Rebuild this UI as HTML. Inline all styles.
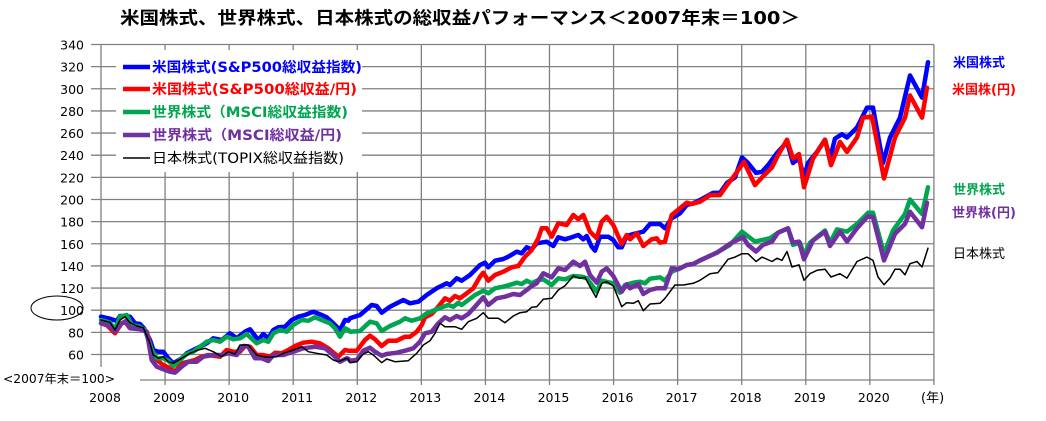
<!DOCTYPE html>
<html><head><meta charset="utf-8"><style>
body{margin:0;background:#fff}
svg{display:block;font-family:"DejaVu Sans","Noto Sans CJK JP",sans-serif}
</style></head><body>
<svg id="s" width="1046" height="421" viewBox="0 0 1046 421" xmlns="http://www.w3.org/2000/svg">
<text x="460" y="24" text-anchor="middle" font-size="17.5" font-weight="bold" textLength="680" lengthAdjust="spacingAndGlyphs">米国株式、世界株式、日本株式の総収益パフォーマンス＜2007年末＝100＞</text>
<g id="grid" stroke="#808080" stroke-width="1.3" fill="none"></g>
<g id="lab" font-size="12.5" fill="#000"></g>
<g id="ser" fill="none" stroke-linejoin="round" stroke-linecap="round"></g>
<rect x="116" y="50" width="246" height="122" fill="#fff"/>
<g font-size="14" font-weight="bold">
<line x1="123" y1="67" x2="150" y2="67" stroke="#0000ff" stroke-width="4.5"/><text x="152" y="72" fill="#0000ff" textLength="210" lengthAdjust="spacingAndGlyphs">米国株式(S&amp;P500総収益指数)</text>
<line x1="123" y1="89" x2="150" y2="89" stroke="#ff0000" stroke-width="4.5"/><text x="152" y="94" fill="#ff0000" textLength="205" lengthAdjust="spacingAndGlyphs">米国株式(S&amp;P500総収益/円)</text>
<line x1="123" y1="112" x2="150" y2="112" stroke="#00a550" stroke-width="4.5"/><text x="152" y="117" fill="#00a550" textLength="196" lengthAdjust="spacingAndGlyphs">世界株式（MSCI総収益指数)</text>
<line x1="123" y1="135" x2="150" y2="135" stroke="#7030a0" stroke-width="4.5"/><text x="152" y="140" fill="#7030a0" textLength="190" lengthAdjust="spacingAndGlyphs">世界株式（MSCI総収益/円)</text>
<line x1="123" y1="158" x2="150" y2="158" stroke="#000" stroke-width="1.5"/><text x="152" y="163" fill="#000" font-weight="normal" textLength="192" lengthAdjust="spacingAndGlyphs">日本株式(TOPIX総収益指数)</text>
</g>
<g font-size="13" font-weight="bold">
<text x="953" y="67" fill="#0000ff">米国株式</text>
<text x="952" y="94" fill="#ff0000">米国株(円)</text>
<text x="953" y="194" fill="#00a550">世界株式</text>
<text x="952" y="217" fill="#7030a0">世界株(円)</text>
<text x="953" y="258" fill="#000" font-weight="normal">日本株式</text>
</g>
<ellipse cx="57" cy="308" rx="26" ry="12" fill="none" stroke="#000" stroke-width="1"/>
<text x="3" y="383" font-size="12" textLength="112" lengthAdjust="spacingAndGlyphs">&lt;2007年末＝100&gt;</text>
<text x="921" y="402" font-size="13">(年)</text>
</svg>
<script>
var NS="http://www.w3.org/2000/svg";
function el(p,t,a,txt){var e=document.createElementNS(NS,t);for(var k in a)e.setAttribute(k,a[k]);if(txt)e.textContent=txt;document.getElementById(p).appendChild(e);}
var L=101,R=934,T=44.5,B=380;
function Y(v){return T+(340-v)*1.1071;}
for(var v=60;v<=340;v+=20){var y=Y(v);el("grid","line",{x1:L-10,y1:y,x2:R,y2:y});el("lab","text",{x:84,y:y+5,"text-anchor":"end"},""+v);}
el("grid","line",{x1:140,y1:B,x2:R,y2:B});
for(var i=0;i<=13;i++){var x=L+i*64.07;el("grid","line",{x1:x,y1:T,x2:x,y2:(i==0?367:B+5)});if(i<13)el("lab","text",{x:x+4,y:402,"text-anchor":"middle"},""+(2008+i));}
function A(a){var r=[];for(var i=0;i<a.length;i+=2)r.push([a[i]/3,30+a[i+1]/3]);return r;}
function M(a){var r=[];for(var i=0;i<a.length;i+=2)if(a[i]<=1050)r.push([350+a[i]/3,190+a[i+1]/3]);return r;}
function Rt(a){var r=[];for(var i=0;i<a.length;i+=2)r.push([a[i],Y(a[i+1])]);return r;}
var S=[
["#0000ff",4.5,
A([303,860,330,866,350,873,360,858,375,858,390,860,405,880,420,882,432,895,450,930,460,960,475,965,490,965,505,985,520,1000,545,985,560,970,580,960,600,950,620,940,640,925,665,930,690,910,710,925,735,905,750,898,775,930,790,912,805,925,820,900,835,892,855,890,875,870,895,860,915,855,940,845,965,855,980,862,1000,880,1020,900,1035,870,1045,872]),
M([0,385,30,375,65,345,80,348,95,368,120,350,160,330,180,340,205,335,230,315,260,295,290,280,300,285,320,265,335,272,360,255,390,225,405,218,415,232,435,212,460,207,475,200,500,185,515,190,530,172,545,178,560,160,590,155,610,168,625,142,645,148,665,142,685,135,700,148,710,138,725,170,735,182,750,140,775,140,790,150,805,172,815,172,830,138,850,132,880,125,900,102,930,102,945,115,965,85,990,70,1010,45,1030,40]),
Rt([700,199.5,713,206,720,206,727,215,735,220,742,238,748,233,756,224,762,225,768,231,777,242,787,252,793,233,799,237,804,220,808,233,817,243,825,254,830,237,835,255,842,259,847,256,857,265,867,283,873,283,883,233,890,256,900,274,910,312,922,292,928,324])],
["#ff0000",4.5,
A([303,880,320,885,345,910,365,880,375,875,390,895,405,895,425,895,440,905,455,960,470,990,490,1005,510,1015,525,1025,545,1000,565,995,585,990,605,980,625,975,660,980,680,960,700,965,720,965,735,948,750,950,770,975,790,975,810,980,825,968,845,970,865,960,885,948,910,938,935,935,960,940,985,955,1015,980,1035,960,1045,962]),
M([0,482,20,482,45,450,60,437,75,448,95,468,115,452,140,452,165,440,180,440,200,425,215,405,225,382,245,372,265,350,285,325,300,332,315,318,330,325,350,310,370,295,390,260,400,248,415,272,435,255,460,245,485,232,505,228,525,200,545,180,565,145,575,115,590,115,605,140,625,100,650,105,670,75,685,88,700,75,720,125,740,145,755,95,770,80,790,105,815,162,830,135,840,148,860,130,880,168,905,148,920,145,930,158,945,155,965,75,990,55,1010,38,1025,42]),
Rt([700,198,710,204,720,204,727,213,733,220,744,234,755,213,762,220,772,229,778,240,787,254,793,237,799,241,804,211,813,237,825,254,831,231,840,252,847,243,857,256,863,274,872,275,884,219,895,256,905,274,910,294,922,274,927,301])],
["#00a550",4.5,
A([303,870,330,878,345,898,360,860,380,855,395,885,420,890,435,900,455,960,470,985,490,985,505,992,520,1008,545,985,560,972,580,965,600,950,620,935,640,930,660,935,680,920,700,928,720,925,740,912,770,940,790,930,805,935,820,910,840,900,860,905,880,885,905,870,925,872,945,862,965,870,990,880,1005,895,1020,920,1035,895,1045,900]),
M([0,425,30,423,60,395,80,400,95,423,120,408,150,395,165,385,185,392,210,385,230,370,255,360,280,350,295,345,310,350,325,338,335,345,355,330,375,315,400,302,415,310,435,295,460,290,485,283,500,278,515,282,530,272,545,280,565,270,580,268,605,285,625,265,645,268,670,258,695,260,710,265,740,305,755,272,790,280,810,308,825,285,850,278,870,275,885,280,900,266,930,262,945,272,965,245,990,235,1010,225,1030,222]),
Rt([700,145,717,152,730,159,742,171,755,162,770,165,778,170,788,174,793,159,800,161,804,150,810,161,825,172,830,161,837,173,847,171,857,178,868,188,873,188,884,151,893,172,905,187,910,200,922,187,928,211])],
["#7030a0",4.5,
A([303,880,330,888,345,905,365,880,378,873,390,895,420,898,440,905,455,990,470,1010,490,1018,510,1025,525,1028,545,1010,565,995,590,995,610,980,640,975,665,975,685,970,710,975,730,948,745,950,765,985,785,985,805,993,820,975,850,975,880,965,910,955,945,950,975,955,1000,975,1020,995,1040,985,1045,986]),
M([0,512,20,510,40,482,60,473,75,485,95,497,110,492,140,488,165,482,190,475,210,455,225,430,245,425,265,400,285,382,300,390,320,378,335,385,355,372,375,350,400,322,415,345,440,325,465,320,490,312,510,315,530,300,545,288,560,280,580,250,605,262,625,235,645,240,670,215,690,228,705,215,720,255,740,278,755,245,770,235,790,258,815,305,830,283,840,295,865,282,880,312,900,300,920,295,945,295,965,235,985,238,1010,225,1030,222]),
Rt([700,145,717,152,730,160,743,166,748,159,756,153,763,159,772,162,778,170,788,174,793,161,799,162,804,146,813,163,825,171,830,158,840,171,847,162,857,174,868,185,873,184,884,145,895,169,905,178,910,189,922,175,927,197])],
["#000",1.5,
A([303,870,330,877,345,900,360,870,375,860,390,878,410,888,430,893,450,940,460,975,475,985,490,980,505,995,520,1000,545,985,570,970,595,960,615,955,640,965,665,980,685,965,705,972,720,945,745,945,770,975,790,980,810,982,830,980,855,968,880,960,905,950,925,965,950,970,980,975,1000,990,1015,995,1040,985,1045,988]),
M([0,518,20,515,40,492,55,485,70,495,95,518,110,507,135,515,175,512,200,490,220,465,240,452,255,430,270,400,285,410,315,410,335,418,355,395,380,385,400,368,415,385,445,385,465,398,490,378,510,368,530,365,545,352,560,350,580,328,605,325,625,300,645,287,670,258,690,265,705,262,720,290,738,322,755,280,770,275,790,288,815,350,830,338,850,340,865,332,880,362,900,342,930,340,945,325,975,285,1000,285,1030,280]),
Rt([700,127,710,133,718,134,728,146,735,148,742,151,748,151,756,144,762,148,772,144,777,147,782,145,787,153,792,139,799,141,804,127,810,133,817,136,825,137,831,130,840,133,847,129,857,144,867,148,873,145,878,130,884,123,890,129,895,137,900,137,905,132,910,142,917,144,922,139,928,156])]
];
S.forEach(function(s){var pts=s[2].concat(s[3]).concat(s[4]);var d=pts.map(function(p,i){return (i?"L":"M")+p[0].toFixed(1)+","+p[1].toFixed(1)}).join("");el("ser","path",{d:d,stroke:s[0],"stroke-width":s[1]});});
</script>
</body></html>
